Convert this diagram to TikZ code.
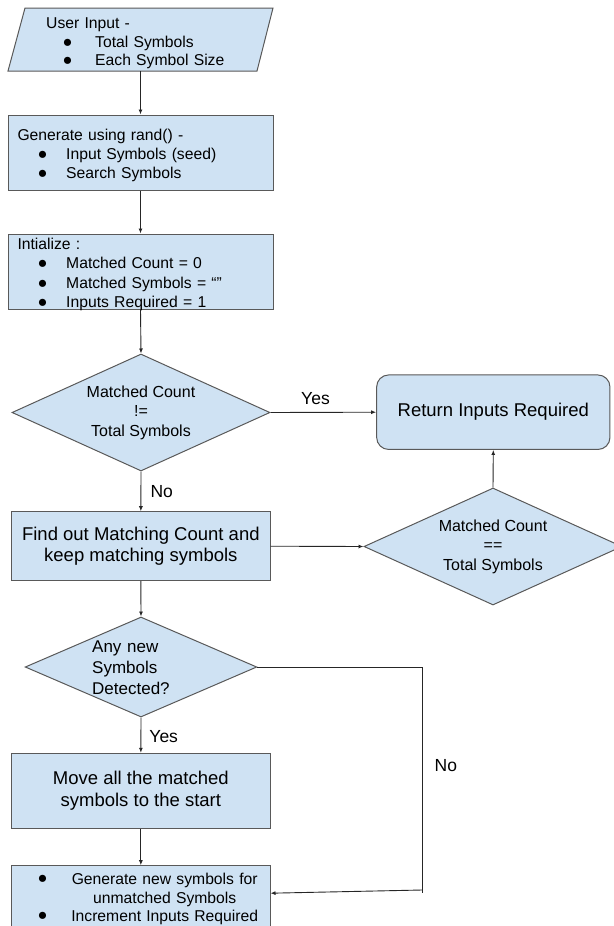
\documentclass[tikz,border=0pt]{standalone}
\usepackage{fontspec}
\setmainfont{Liberation Sans}
\usetikzlibrary{shapes.geometric,arrows.meta,calc}
\definecolor{boxfill}{HTML}{CFE2F3}
\definecolor{boxline}{HTML}{595959}
\newcommand\listdot{{\fontsize{16.5}{16.5}\selectfont ●}}

\begin{document}
\begin{tikzpicture}[x=1pt,y=-1pt,
  shapebase/.style={draw=boxline, fill=boxfill, line width=1pt, inner sep=0pt},
  procbox/.style={shapebase, rectangle, minimum width=#1},
  procbox/.default=258.3pt,
  decision/.style={shapebase, diamond, aspect=2.2},
  conn/.style={draw=black!85, line width=0.9pt, -{Latex[length=5pt,width=4pt]}},
  plainline/.style={draw=black!85, line width=0.9pt},
  smalltxt/.style={font=\fontsize{15.7}{18.7}\selectfont, inner sep=0pt},
  midtxt/.style={font=\fontsize{16}{19.5}\selectfont, inner sep=0pt, align=center},
  bigtxt/.style={font=\fontsize{18.5}{21.3}\selectfont},
  branch/.style={font=\fontsize{17.5}{20}\selectfont, inner sep=0pt},
]
\useasboundingbox (0,0) rectangle (613,926);

% input parallelogram
\draw[shapebase] (25,8) -- (273,8) -- (257,71) -- (8,71) -- cycle;
\coordinate (inp) at (140.5,71);
\node[smalltxt, anchor=base west, text width=224pt, align=left] (inptxt) at (46,28.3)
  {User Input -\\
   \hspace*{16.5pt}\makebox[32.5pt][l]{\listdot}Total Symbols\\
   \hspace*{16.5pt}\makebox[32.5pt][l]{\listdot}Each Symbol Size};

% generation box
\node[procbox=265pt, minimum height=75pt] (gen) at (140.5,152.5) {};
\node[smalltxt, font=\fontsize{15.7}{19}\selectfont, anchor=base west, text width=250pt, align=left]
  (gentxt) at (17.3,140.6)
  {Generate using rand() -\\
   \hspace*{20.2pt}\makebox[28.5pt][l]{\listdot}Input Symbols (seed)\\
   \hspace*{20.2pt}\makebox[28.5pt][l]{\listdot}Search Symbols};

% initialisation box
\node[procbox=265pt, minimum height=75pt] (init) at (140.5,271.5) {};
\node[smalltxt, font=\fontsize{15.7}{19.3}\selectfont, anchor=base west, text width=250pt, align=left]
  (inittxt) at (17.3,249.6)
  {Intialize :\\
   \hspace*{20.2pt}\makebox[28.5pt][l]{\listdot}Matched Count = 0\\
   \hspace*{20.2pt}\makebox[28.5pt][l]{\listdot}Matched Symbols = “”\\
   \hspace*{20.2pt}\makebox[28.5pt][l]{\listdot}Inputs Required = 1};

% loop test
\node[decision, minimum width=258pt, minimum height=117pt, midtxt] (d1) at (141,412.5)
  {Matched Count\\!=\\Total Symbols};

% result
\node[shapebase, rectangle, rounded corners=12pt, minimum width=233.3pt, minimum height=74.5pt, bigtxt]
  (ret) at (493.3,412.2) {Return Inputs Required};

% matching step
\node[procbox, minimum height=69pt, bigtxt, align=center] (find) at (140.85,546.2)
  {Find out Matching Count and\\keep matching symbols};

% equality test
\node[decision, minimum width=258pt, minimum height=117pt, midtxt] (d2) at (493,546.5)
  {Matched Count\\==\\Total Symbols};

% new symbols test
\node[decision, minimum width=231.7pt, minimum height=100pt] (d3) at (141,667) {};
\node[font=\fontsize{17}{20.8}\selectfont, inner sep=0pt, anchor=base west, text width=100pt, align=left]
  (d3txt) at (92,652.8) {Any new\\Symbols\\Detected?};

% move step
\node[procbox, minimum height=75pt, font=\fontsize{18.5}{21.6}\selectfont, align=center] (move) at (140.85,790.8)
  {Move all the matched\\symbols to the start};

% regeneration step
\node[procbox, minimum height=75pt] (regen) at (140.85,903.2) {};
\node[inner sep=0pt] (regenb1) at (42.7,879.3) {\listdot};
\node[inner sep=0pt] (regenb2) at (42.7,916) {\listdot};
\node[smalltxt, font=\fontsize{15.7}{18.4}\selectfont, anchor=base, text width=210pt, align=center]
  (regentxt) at (164.7,884.9)
  {Generate new symbols for\\unmatched Symbols\\Increment Inputs Required};

% connectors
\draw[conn] (inp) -- (gen.north);
\draw[conn] (gen.south) -- (init.north);
\draw[conn] (init.south) -- (d1.north);
\draw[conn] (d1.east) -- (ret.west);
\node[branch] (yes1) at (315.5,399) {Yes};
\draw[conn] (d1.south) -- (find.north);
\node[branch] (no1) at (161.7,491.7) {No};
\draw[conn] (find.east) -- (d2.west);
\draw[conn] (d2.north) -- (ret.south);
\draw[conn] (find.south) -- (d3.north);
\draw[conn] (d3.south) -- (move.north);
\node[branch] (yes2) at (163.7,736.7) {Yes};
\draw[conn] (move.south) -- (regen.north);
\coordinate (nocorner) at (422,890);
\draw[plainline] (d3.east) -| ($(nocorner)+(0,2.5)$);
\draw[conn] (nocorner) -- ($(regen.north east)+(0,28)$);
\node[branch] (no2) at (445.8,765.7) {No};
\end{tikzpicture}
\end{document}
